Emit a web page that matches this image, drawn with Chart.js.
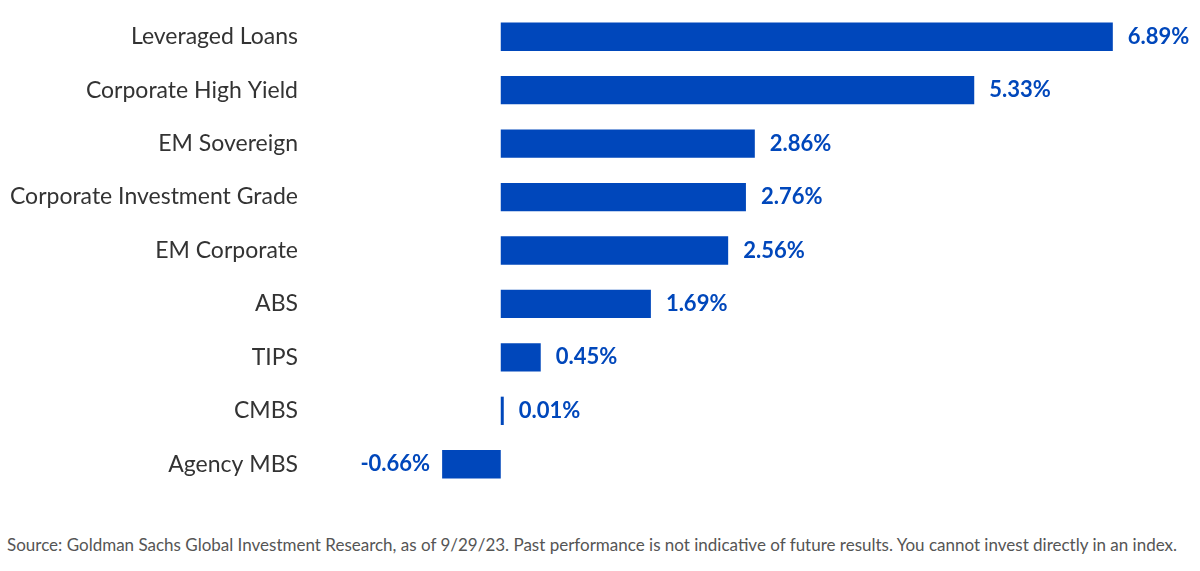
<!DOCTYPE html>
<html>
<head>
<meta charset="utf-8">
<script src="https://cdn.jsdelivr.net/npm/chart.js@4.4.1/dist/chart.umd.min.js"></script>
<style>
  html, body { margin: 0; padding: 0; background: #fff; }
  #wrap { position: relative; width: 1200px; height: 500px; }
  #note {
    position: absolute; left: 7px; top: 534px;
    font-family: Lato, sans-serif; font-size: 17px; color: #555;
    white-space: nowrap;
  }
</style>
</head>
<body>
<div id="wrap"><canvas id="returnsChart"></canvas></div>
<div id="note">Source: Goldman Sachs Global Investment Research, as of 9/29/23. Past performance is not indicative of future results. You cannot invest directly in an index.</div>
<script>
const sectors = [
  'Leveraged Loans',
  'Corporate High Yield',
  'EM Sovereign',
  'Corporate Investment Grade',
  'EM Corporate',
  'ABS',
  'TIPS',
  'CMBS',
  'Agency MBS'
];
const totalReturn = [6.89, 5.33, 2.86, 2.76, 2.56, 1.69, 0.45, 0.01, -0.66];

const barBlue = '#0047bb';

// value labels at the end of each bar
const valueLabels = {
  id: 'valueLabels',
  afterDatasetsDraw(chart) {
    const ctx = chart.ctx;
    const meta = chart.getDatasetMeta(0);
    ctx.save();
    ctx.font = 'bold 22px Lato, sans-serif';
    ctx.fillStyle = barBlue;
    ctx.textBaseline = 'middle';
    meta.data.forEach((bar, i) => {
      const v = totalReturn[i];
      const txt = v.toFixed(2) + '%';
      if (v < 0) {
        ctx.textAlign = 'right';
        ctx.fillText(txt, Math.min(bar.x, bar.base) - 12, bar.y);
      } else {
        ctx.textAlign = 'left';
        ctx.fillText(txt, Math.max(bar.x, bar.base + 3) + 15, bar.y);
      }
    });
    ctx.restore();
  }
};

new Chart(document.getElementById('returnsChart'), {
  type: 'bar',
  data: {
    labels: sectors,
    datasets: [{
      data: totalReturn,
      backgroundColor: barBlue,
      borderWidth: 0,
      barPercentage: 0.53,
      categoryPercentage: 1,
      minBarLength: 3
    }]
  },
  options: {
    indexAxis: 'y',
    responsive: true,
    maintainAspectRatio: false,
    animation: false,
    layout: { padding: { top: 10, bottom: 9, right: 33 } },
    plugins: {
      legend: { display: false },
      tooltip: { enabled: false }
    },
    scales: {
      x: {
        display: false,
        min: -2.26,
        max: 7.5
      },
      y: {
        afterFit(scale) {
          scale.width = 300;
          scale.paddingTop = 0;
          scale.paddingBottom = 0;
        },
        grid: { display: false, drawTicks: false },
        border: { display: false },
        ticks: {
          padding: 2,
          color: '#333',
          font: { family: 'Lato, sans-serif', size: 23 }
        }
      }
    }
  },
  plugins: [valueLabels]
});
</script>
</body>
</html>
